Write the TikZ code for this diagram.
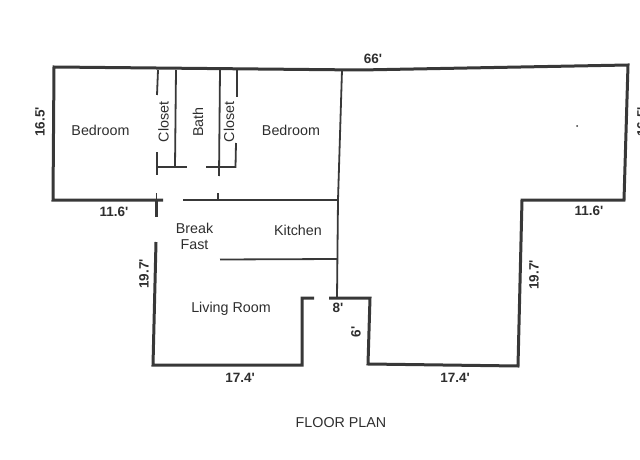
\documentclass[tikz,border=0pt]{standalone}
\usepackage{fontspec}
\setmainfont{Liberation Sans}
\definecolor{wallc}{HTML}{383838}
\definecolor{textc}{HTML}{2E2E2E}
\newcommand{\ft}{\textquotesingle}
\tikzset{
  x=1pt,y=-1pt,
  outerwall/.style={draw=wallc,line width=3pt,line join=miter},
  innerwall/.style={draw=wallc,line width=1.8pt},
  roomlabel/.style={text=textc,font=\fontsize{14.3}{16}\selectfont,inner sep=0pt,align=center},
  dimlabel/.style={text=textc,font=\fontsize{13.5}{15}\selectfont\bfseries,inner sep=0pt},
}
\begin{document}
\begin{tikzpicture}
\useasboundingbox (0,0) rectangle (640,460);
% wall corners
\coordinate (a) at (163,200);
\coordinate (b) at (53,200);
\coordinate (c) at (54,67);
\coordinate (d) at (360,70);
\coordinate (e) at (628,65);
\coordinate (f) at (624,200);
\coordinate (g) at (522,200);
\coordinate (h) at (518,366);
\coordinate (i) at (368,364);
\coordinate (j) at (370,298);
\coordinate (k) at (329,298);
\coordinate (l) at (314,298);
\coordinate (m) at (302,298);
\coordinate (n) at (302,365);
\coordinate (o) at (153,365);
\coordinate (p) at (156,242);
\draw[outerwall] (a) -- (b) -- (c) -- (d) -- (e) -- (f) -- (g) -- (h) -- (i) -- (j) -- (k);
\draw[outerwall] (l) -- (m) -- (n) -- (o) -- (p);
\draw[outerwall] (156,217) -- (156,200);
\draw[innerwall] (156.5,200) -- (156.5,193);
% inner walls
\draw[innerwall] (342,70) -- (338,200) -- (337,298);
\draw[innerwall] (183,200) -- (338,200);
\draw[innerwall] (218,193) -- (218,200);
\draw[innerwall] (220,259.5) -- (337,259);
% closets and bath
\draw[innerwall] (158,70) -- (157,95);
\draw[innerwall] (157,152) -- (157,175);
\draw[innerwall] (176,70) -- (175,167);
\draw[innerwall] (158,167) -- (187,167);
\draw[innerwall] (220,70) -- (219,176);
\draw[innerwall] (237,70) -- (237,97);
\draw[innerwall] (206,167) -- (235.5,167) -- (236,143);
% speck
\fill[wallc] (577,126) circle (1pt);
% labels
\node[roomlabel] (bed1) at (100.5,130) {Bedroom};
\node[roomlabel] (bed2) at (291,130) {Bedroom};
\node[roomlabel,rotate=90] (clo1) at (163.5,122) {Closet};
\node[roomlabel,rotate=90] (bath) at (198,122) {Bath};
\node[roomlabel,rotate=90] (clo2) at (229,122) {Closet};
\node[roomlabel] (kit) at (298,230) {Kitchen};
\node[roomlabel] (bf) at (194.5,236) {Break\\[0pt]Fast};
\node[roomlabel] (liv) at (231,309) {Living Room};
\node[roomlabel] (plan) at (341,423) {FLOOR PLAN};
\node[dimlabel] (d66) at (373,59) {66\ft};
\node[dimlabel,rotate=90] (d165) at (40,122) {16.5\ft};
\node[dimlabel,rotate=90] (d155) at (642,122) {16.5\ft};
\node[dimlabel] (d116a) at (114,212) {11.6\ft};
\node[dimlabel] (d116b) at (589,211) {11.6\ft};
\node[dimlabel,rotate=90] (d197a) at (144,274) {19.7\ft};
\node[dimlabel,rotate=90] (d197b) at (534,275) {19.7\ft};
\node[dimlabel] (d174a) at (240,378) {17.4\ft};
\node[dimlabel] (d174b) at (455,378) {17.4\ft};
\node[dimlabel] (d8) at (338,308) {8\ft};
\node[dimlabel,rotate=90] (d6) at (356,332) {6\ft};
\end{tikzpicture}
\end{document}
